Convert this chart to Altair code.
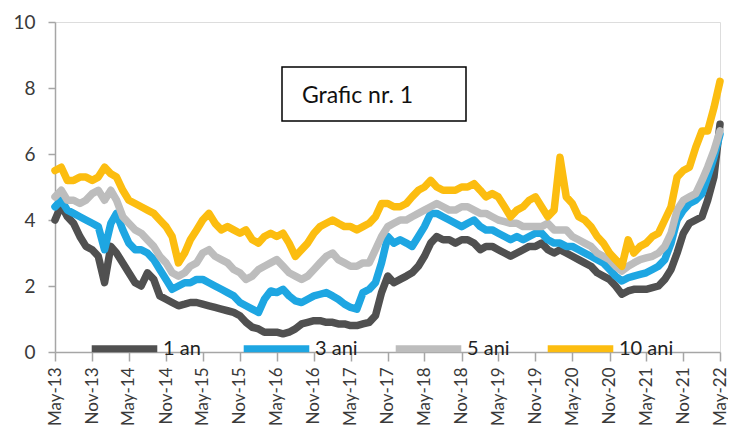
import altair as alt
import pandas as pd

# monthly observation dates (May 2013 .. May 2022)
months = pd.date_range("2013-05-01", "2022-05-01", freq="MS").strftime("%Y-%m-%d").tolist()

series_names = ["1 an", "3 ani", "5 ani", "10 ani"]
series_colors = ["#505050", "#1EA6E2", "#BDBDBD", "#FCBD10"]

y_1an = [4.0, 4.45, 4.1, 3.9, 3.5, 3.2, 3.1, 2.9, 2.1, 3.2,
         3.0, 2.7, 2.4, 2.1, 2.0, 2.4, 2.2, 1.7, 1.6, 1.5,
         1.4, 1.45, 1.5, 1.5, 1.45, 1.4, 1.35, 1.3, 1.25, 1.2,
         1.1, 0.9, 0.75, 0.7, 0.6, 0.6, 0.6, 0.55, 0.6, 0.7,
         0.85, 0.9, 0.95, 0.95, 0.9, 0.9, 0.85, 0.85, 0.8, 0.8,
         0.85, 0.9, 1.1, 1.8, 2.3, 2.1, 2.2, 2.3, 2.4, 2.6,
         2.9, 3.3, 3.5, 3.4, 3.4, 3.3, 3.4, 3.4, 3.3, 3.1,
         3.2, 3.2, 3.1, 3.0, 2.9, 3.0, 3.1, 3.2, 3.2, 3.3,
         3.1, 3.0, 3.1, 3.0, 2.9, 2.8, 2.7, 2.6, 2.4, 2.3,
         2.2, 2.0, 1.75, 1.85, 1.9, 1.9, 1.9, 1.95, 2.0, 2.2,
         2.5, 3.0, 3.6, 3.9, 4.0, 4.1, 4.6, 5.3, 6.9]

y_3ani = [4.4, 4.6, 4.3, 4.2, 4.1, 4.0, 3.9, 3.8, 3.1, 3.9,
          4.2, 3.7, 3.3, 3.1, 3.1, 3.0, 2.8, 2.5, 2.2, 1.9,
          2.0, 2.1, 2.1, 2.2, 2.2, 2.1, 2.0, 1.9, 1.8, 1.7,
          1.5, 1.4, 1.3, 1.2, 1.6, 1.85, 1.8, 1.9, 1.7, 1.55,
          1.5, 1.6, 1.7, 1.75, 1.8, 1.7, 1.6, 1.45, 1.35, 1.3,
          1.8, 1.9, 2.1, 2.7, 3.5, 3.3, 3.4, 3.3, 3.2, 3.5,
          3.8, 4.2, 4.2, 4.1, 4.0, 3.9, 3.8, 3.9, 4.0, 3.8,
          3.7, 3.7, 3.6, 3.5, 3.4, 3.5, 3.4, 3.5, 3.6, 3.6,
          3.4, 3.3, 3.3, 3.2, 3.2, 3.1, 3.0, 2.9, 2.8, 2.7,
          2.5, 2.3, 2.15, 2.25, 2.3, 2.35, 2.4, 2.5, 2.6, 2.8,
          3.3, 4.0, 4.3, 4.5, 4.6, 4.8, 5.3, 5.9, 6.6]

y_5ani = [4.7, 4.9, 4.6, 4.6, 4.5, 4.6, 4.8, 4.9, 4.6, 4.9,
          4.6, 4.1, 3.9, 3.7, 3.6, 3.4, 3.2, 2.9, 2.7, 2.4,
          2.3, 2.4, 2.6, 2.7, 3.0, 3.1, 2.9, 2.8, 2.7, 2.5,
          2.4, 2.2, 2.3, 2.5, 2.6, 2.7, 2.8, 2.6, 2.4, 2.3,
          2.2, 2.3, 2.5, 2.7, 2.9, 3.0, 2.8, 2.7, 2.6, 2.6,
          2.7, 2.7, 3.1, 3.5, 3.8, 3.9, 4.0, 4.0, 4.1, 4.2,
          4.3, 4.4, 4.5, 4.4, 4.3, 4.3, 4.4, 4.4, 4.3, 4.2,
          4.2, 4.1, 4.0, 3.95, 3.9, 3.9, 3.8, 3.8, 3.8, 3.8,
          3.9, 3.7, 3.7, 3.7, 3.5, 3.4, 3.3, 3.2, 3.0, 2.9,
          2.8, 2.6, 2.45, 2.6, 2.7, 2.8, 2.85, 2.9, 3.0, 3.2,
          3.6, 4.3, 4.6, 4.7, 4.8, 5.2, 5.6, 6.1, 6.7]

y_10ani = [5.5, 5.6, 5.2, 5.2, 5.3, 5.3, 5.2, 5.3, 5.6, 5.4,
           5.3, 4.9, 4.6, 4.5, 4.4, 4.3, 4.2, 4.0, 3.8, 3.5,
           2.7, 3.0, 3.4, 3.7, 4.0, 4.2, 3.9, 3.7, 3.8, 3.7,
           3.6, 3.7, 3.4, 3.3, 3.5, 3.6, 3.5, 3.6, 3.3, 2.9,
           3.1, 3.3, 3.6, 3.8, 3.9, 4.0, 3.9, 3.8, 3.8, 3.7,
           3.8, 3.9, 4.1, 4.5, 4.5, 4.4, 4.4, 4.5, 4.7, 4.9,
           5.0, 5.2, 5.0, 4.9, 4.9, 4.9, 5.0, 5.0, 5.1, 4.9,
           4.7, 4.8, 4.7, 4.4, 4.1, 4.3, 4.4, 4.6, 4.7, 4.4,
           4.1, 4.3, 5.9, 4.7, 4.5, 4.1, 4.0, 3.8, 3.5, 3.3,
           3.0, 2.8, 2.6, 3.4, 3.0, 3.2, 3.3, 3.5, 3.6, 4.0,
           4.4, 5.3, 5.5, 5.6, 6.2, 6.7, 6.7, 7.4, 8.2]

tick_years = [2013, 2013, 2014, 2014, 2015, 2015, 2016, 2016, 2017, 2017,
              2018, 2018, 2019, 2019, 2020, 2020, 2021, 2021, 2022]
tick_months = [5, 11] * 9 + [5]

box_text = ["Grafic nr. 1"]

rows = []
for name, vals in zip(series_names, [y_1an, y_3ani, y_5ani, y_10ani]):
    for d, v in zip(months, vals):
        rows.append({"date": d, "value": v, "series": name})
df = pd.DataFrame(rows)

FONT = "Lato"
AXIS_GREY = "#A6A6A6"
LABEL_COLOR = "#3a3a3a"

tick_values = [alt.DateTime(year=y, month=m, date=1, utc=True) for y, m in zip(tick_years, tick_months)]

lines = alt.Chart(df).mark_line(strokeWidth=7.5, strokeJoin="round", strokeCap="round").encode(
    x=alt.X(
        "date:T",
        title=None,
        scale=alt.Scale(type="utc", domain=[tick_values[0], tick_values[-1]]),
        axis=alt.Axis(values=tick_values, format="%b-%y", labelAngle=-90,
                      labelFontSize=17, labelFont=FONT, labelColor=LABEL_COLOR,
                      tickSize=9, tickColor=AXIS_GREY, tickWidth=1.5,
                      domainColor=AXIS_GREY, domainWidth=1.5,
                      labelPadding=6, grid=False, labelOverlap=False),
    ),
    y=alt.Y(
        "value:Q",
        title=None,
        scale=alt.Scale(domain=[0, 10], nice=False),
        axis=alt.Axis(values=[0, 2, 4, 6, 8, 10], labelFontSize=19, labelFont=FONT,
                      labelColor=LABEL_COLOR, tickSize=7, tickColor=AXIS_GREY, tickWidth=1.5,
                      domainColor=AXIS_GREY, domainWidth=1.5, labelPadding=13, grid=False),
    ),
    color=alt.Color(
        "series:N",
        scale=alt.Scale(domain=series_names, range=series_colors),
        sort=series_names,
        legend=alt.Legend(
            title=None, orient="none", legendX=33, legendY=290, direction="horizontal",
            symbolType="stroke", symbolSize=4300, symbolStrokeWidth=7,
            labelFontSize=20, labelFont=FONT, labelColor="#222222", labelOffset=2,
            columnPadding=11, gridAlign="all", padding=0,
        ),
    ),
)

box = alt.Chart(pd.DataFrame({"t": box_text})).mark_rect(
    fill="white", stroke="black", strokeWidth=1.5
).encode(x=alt.value(227), x2=alt.value(411), y=alt.value(45), y2=alt.value(99))

box_label = alt.Chart(pd.DataFrame({"t": box_text})).mark_text(
    align="left", baseline="middle", fontSize=23, font=FONT, color="#111111"
).encode(text="t:N", x=alt.value(247), y=alt.value(74))

chart = alt.layer(lines, box, box_label).properties(
    width=665, height=330,
    autosize=alt.AutoSizeParams(type="none"),
    padding={"left": 47, "top": 14, "right": 8, "bottom": 77},
).configure_view(stroke=AXIS_GREY, strokeWidth=1.5).configure(background="white")

chart.save("out.html", embed_options={"renderer": "svg", "actions": False})
